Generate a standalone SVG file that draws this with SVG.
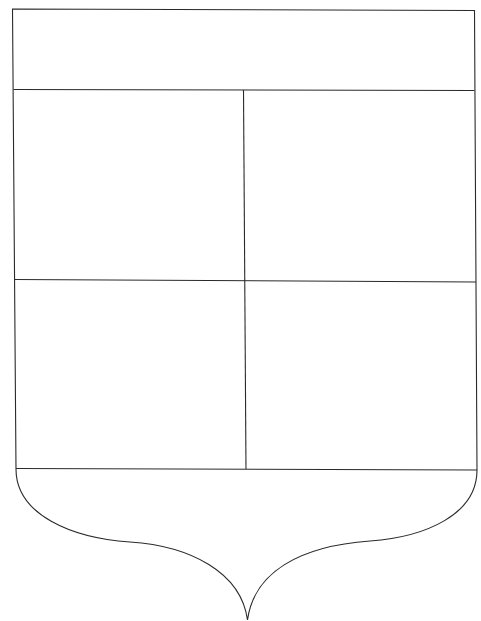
<svg xmlns="http://www.w3.org/2000/svg" width="481" height="621" viewBox="0 0 481 621">
<style>
.l{fill:none;stroke:#2a2a2a;stroke-width:1.1}
</style>
<rect width="481" height="621" fill="#fff"/>
<g id="shield">
<path class="l" d="M12.5,9 L474.5,10.5 L477,470 C477,515 425,537 370,541 C300,546 254,572 247.5,620 C241,572 190,546 130,542 C72,538 16,515 16,469 Z"/>
</g>
<g id="divisions">
<path class="l" d="M13.5,89.5 L474.5,90.5"/>
<path class="l" d="M14.5,279.5 L476,282"/>
<path class="l" d="M16,468.5 L477,470"/>
<path class="l" d="M243.5,90 L246,469"/>
</g>
</svg>
